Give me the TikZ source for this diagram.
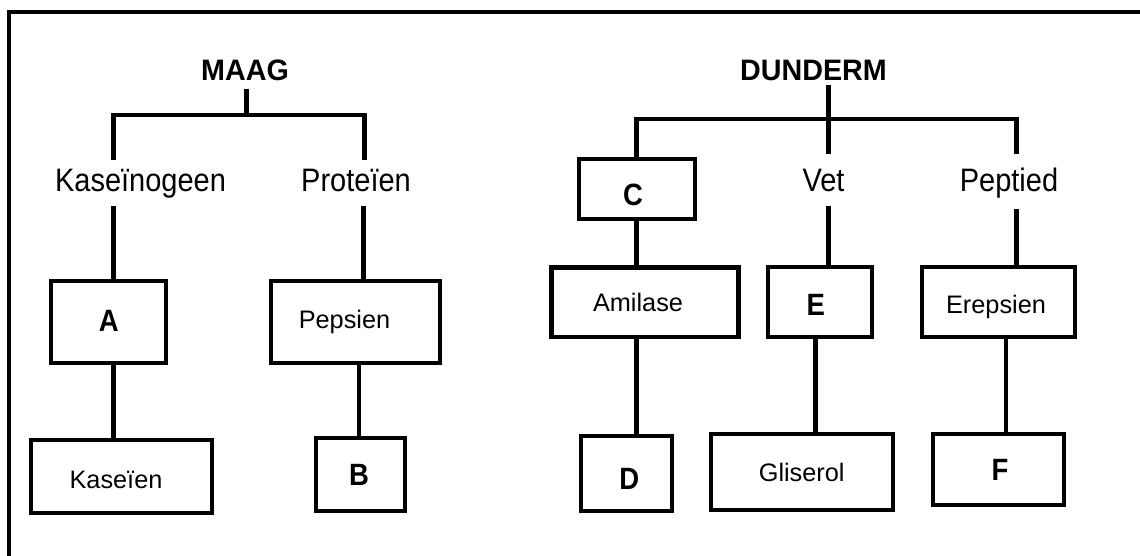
\documentclass[tikz,border=0pt]{standalone}
\usepackage{fontspec}
\setmainfont{Liberation Sans}
\newcommand\myvstretch[1]{\scalebox{1}[1.12]{#1}}
\begin{document}
\begin{tikzpicture}[x=1pt,y=-1pt,line width=4.5pt,
  box/.style={draw, inner sep=0pt, line width=4.5pt},
  ttl/.style={inner sep=0pt, anchor=base, font=\bfseries\fontsize{28.7}{34}\selectfont},
  lbl/.style={inner sep=0pt, anchor=base, font=\fontsize{29}{34}\selectfont},
  btx/.style={inner sep=0pt, anchor=base, font=\fontsize{25.3}{30}\selectfont},
  blt/.style={inner sep=0pt, anchor=base, font=\bfseries\fontsize{27.5}{32}\selectfont}]
\useasboundingbox (0,0) rectangle (1140,556);
% frame (only top and left edges visible)
\draw[line width=4.3pt] (9,560) -- (9,12) -- (1145,12);
% ---- titles and labels
\node[ttl] (maag) at (245,81) {\scalebox{1}[1.03]{MAAG}};
\node[ttl] (dunderm) at (813.5,81) {\scalebox{1}[1.03]{DUNDERM}};
\node[lbl] (kasg) at (140.5,191.7) {\myvstretch{Kaseïnogeen}};
\node[lbl] (prot) at (356,191.7) {\myvstretch{Proteïen}};
\node[lbl] (vet) at (823.5,191.7) {\myvstretch{Vet}};
\node[lbl] (pept) at (1009,191.7) {\myvstretch{Peptied}};
% ---- boxes
\node[box, minimum width=115pt, minimum height=82pt] (A) at (108.5,322) {};
\node[box, minimum width=181pt, minimum height=73pt] (kaseien) at (121.5,476.5) {};
\node[box, minimum width=169pt, minimum height=82pt] (pepsien) at (355.5,322) {};
\node[box, minimum width=89pt, minimum height=73pt] (B) at (360.5,474.5) {};
\node[box, minimum width=116pt, minimum height=60pt] (C) at (637,189) {};
\node[box, minimum width=187pt, minimum height=69.5pt] (amilase) at (645,302.2) {};
\node[box, minimum width=91pt, minimum height=75pt] (D) at (626.5,473.5) {};
\node[box, minimum width=104pt, minimum height=70pt] (E) at (820,302) {};
\node[box, minimum width=182pt, minimum height=76pt] (gliserol) at (802,472) {};
\node[box, minimum width=153pt, minimum height=70pt] (erepsien) at (998.5,302) {};
\node[box, minimum width=131pt, minimum height=71pt] (F) at (998.5,469.5) {};
% ---- box texts
\node[blt] (tA) at (108.7,331) {\myvstretch{A}};
\node[btx] (tkaseien) at (116,488.3) {Kaseïen};
\node[btx] (tpepsien) at (344.5,328.5) {Pepsien};
\node[blt] (tB) at (359,485) {\myvstretch{B}};
\node[blt] (tC) at (633,205) {\myvstretch{C}};
\node[btx] (tamilase) at (638,311.7) {Amilase};
\node[blt] (tD) at (629.3,489.3) {\myvstretch{D}};
\node[blt] (tE) at (815.8,315) {\myvstretch{E}};
\node[btx] (tgliserol) at (801.7,481.7) {Gliserol};
\node[btx] (terepsien) at (996,313.3) {Erepsien};
\node[blt] (tF) at (1000,480) {\myvstretch{F}};
% ---- MAAG tree connectors
\coordinate (m0) at (246.7,89);
\coordinate (mj) at (246.7,115);
\coordinate (k1) at (113.3,160);
\coordinate (p1) at (364.3,160);
\draw (m0) -- (mj);
\draw (k1) |- (mj) -| (p1);
\coordinate (k2) at (113.3,206);
\coordinate (p2) at (363.3,206);
\draw (k2) -- (A.north -| k2);
\draw (p2) -- (pepsien.north -| p2);
\draw (A.south -| k2) -- (kaseien.north -| k2);
\coordinate (pb) at (359,400);
\draw (pepsien.south -| pb) -- (B.north -| pb);
% ---- DUNDERM tree connectors
\coordinate (d0) at (828.3,85);
\coordinate (v1) at (828.3,154);
\coordinate (cx) at (636.5,119);
\coordinate (e1) at (1016.7,154);
\draw (d0) -- (v1);
\draw (C.north -| cx) -- (cx) -| (e1);
\coordinate (v2) at (828.3,206);
\coordinate (q2) at (1016.7,209);
\draw (v2) -- (E.north -| v2);
\draw (q2) -- (erepsien.north -| q2);
\draw (C.south -| cx) -- (amilase.north -| cx);
\draw (amilase.south -| cx) -- (D.north -| cx);
\coordinate (ex) at (815.7,400);
\draw (E.south -| ex) -- (gliserol.north -| ex);
\coordinate (fx) at (1006,400);
\draw (erepsien.south -| fx) -- (F.north -| fx);
\end{tikzpicture}
\end{document}
